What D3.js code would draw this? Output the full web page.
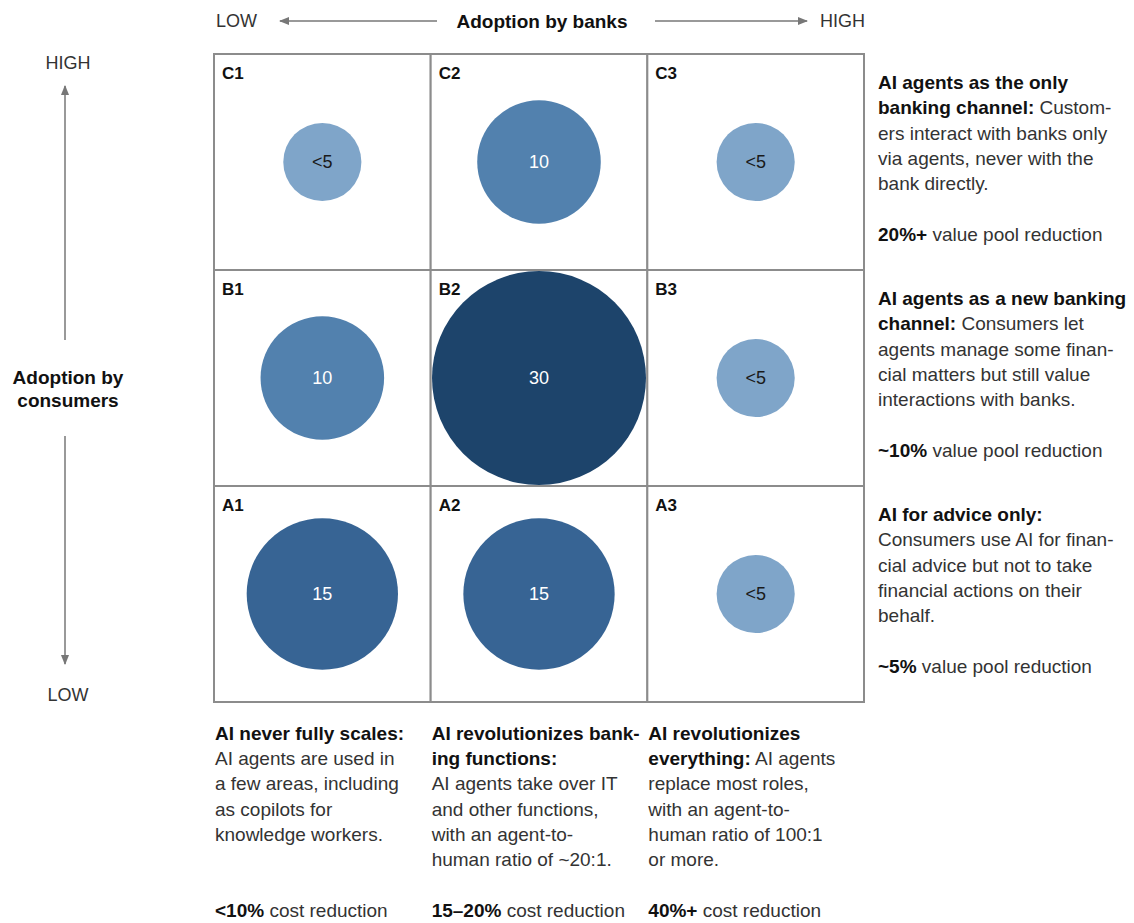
<!DOCTYPE html>
<html>
<head>
<meta charset="utf-8">
<script src="https://cdn.jsdelivr.net/npm/d3@7"></script>
<style>
  body { margin: 0; background: #fff; }
  svg text { font-family: "Liberation Sans", Arial, sans-serif; }
</style>
</head>
<body>
<div id="canvas"></div>
<script>
const width = 1134, height = 923;
const grid = { left: 214, right: 864, top: 54, bottom: 702 };

// the matrix: rows top to bottom, columns left to right
const rowKeys = ["C", "B", "A"];
const colKeys = ["1", "2", "3"];
const cells = ["C1", "C2", "C3", "B1", "B2", "B3", "A1", "A2", "A3"];
const cellValues = [4, 10, 4, 10, 30, 4, 15, 15, 4];
const cellLabels = ["<5", "10", "<5", "10", "30", "<5", "15", "15", "<5"];

const valueLevels = [4, 10, 15, 30];
const levelColors = ["#7fa5c9", "#5281ae", "#376494", "#1d446b"];

// scenario notes, each line is [bold part, regular part]
const rowNotes = [
  [["AI agents as the only", ""], ["banking channel:", " Custom-"], ["", "ers interact with banks only"],
   ["", "via agents, never with the"], ["", "bank directly."], null, ["20%+", " value pool reduction"]],
  [["AI agents as a new banking", ""], ["channel:", " Consumers let"], ["", "agents manage some finan-"],
   ["", "cial matters but still value"], ["", "interactions with banks."], null, ["~10%", " value pool reduction"]],
  [["AI for advice only:", ""], ["", "Consumers use AI for finan-"], ["", "cial advice but not to take"],
   ["", "financial actions on their"], ["", "behalf."], null, ["~5%", " value pool reduction"]]
];
const colNotes = [
  [["AI never fully scales:", ""], ["", "AI agents are used in"], ["", "a few areas, including"],
   ["", "as copilots for"], ["", "knowledge workers."]],
  [["AI revolutionizes bank-", ""], ["ing functions:", ""], ["", "AI agents take over IT"],
   ["", "and other functions,"], ["", "with an agent-to-"], ["", "human ratio of ~20:1."]],
  [["AI revolutionizes", ""], ["everything:", " AI agents"], ["", "replace most roles,"],
   ["", "with an agent-to-"], ["", "human ratio of 100:1"], ["", "or more."]]
];
const colFooters = [["<10%", " cost reduction"], ["15\u201320%", " cost reduction"], ["40%+", " cost reduction"]];

const svg = d3.select("#canvas").append("svg")
  .attr("width", width).attr("height", height);

const x = d3.scaleBand().domain(colKeys).range([grid.left, grid.right]);
const y = d3.scaleBand().domain(rowKeys).range([grid.top, grid.bottom]);
const r = d3.scaleSqrt().domain([0, 30]).range([0, 107]);
const color = d3.scaleOrdinal().domain(valueLevels).range(levelColors);

const data = cells.map((c, i) => ({ id: c, row: c[0], col: c[1], value: cellValues[i], label: cellLabels[i] }));

// arrowheads
const defs = svg.append("defs");
defs.append("marker").attr("id", "arr")
  .attr("viewBox", "0 0 10 10").attr("refX", 9).attr("refY", 5)
  .attr("markerWidth", 7).attr("markerHeight", 7).attr("orient", "auto-start-reverse")
  .append("path").attr("d", "M0,1 L10,5 L0,9 Z").attr("fill", "#777");

// cells
const cellG = svg.append("g");
cellG.selectAll("rect").data(data).join("rect")
  .attr("x", d => x(d.col)).attr("y", d => y(d.row))
  .attr("width", x.bandwidth()).attr("height", y.bandwidth())
  .attr("fill", "#fff").attr("stroke", "#8c8c8c").attr("stroke-width", 2);

cellG.selectAll("circle").data(data).join("circle")
  .attr("cx", d => x(d.col) + x.bandwidth() / 2)
  .attr("cy", d => y(d.row) + y.bandwidth() / 2)
  .attr("r", d => r(d.value))
  .attr("fill", d => color(d.value));

cellG.selectAll("text.val").data(data).join("text").attr("class", "val")
  .attr("x", d => x(d.col) + x.bandwidth() / 2)
  .attr("y", d => y(d.row) + y.bandwidth() / 2)
  .attr("dy", "0.35em").attr("text-anchor", "middle")
  .attr("font-size", 18)
  .attr("fill", d => d.value < 5 ? "#1a1a1a" : "#fff")
  .text(d => d.label);

cellG.selectAll("text.id").data(data).join("text").attr("class", "id")
  .attr("x", d => x(d.col) + 8).attr("y", d => y(d.row) + 25)
  .attr("font-size", 17).attr("font-weight", "bold").attr("fill", "#111")
  .text(d => d.id);

// top axis
const topY = 21;
const topAxis = svg.append("g").attr("font-size", 18);
topAxis.append("text").attr("x", grid.left + 2).attr("y", topY).attr("dy", "0.35em").attr("fill", "#333").text("LOW");
topAxis.append("text").attr("x", grid.right + 1).attr("y", topY).attr("dy", "0.35em").attr("text-anchor", "end").attr("fill", "#333").text("HIGH");
topAxis.append("text").attr("x", 542).attr("y", topY).attr("dy", "0.35em")
  .attr("text-anchor", "middle").attr("font-size", 19).attr("font-weight", "bold").attr("fill", "#111").text("Adoption by banks");
topAxis.append("line").attr("x1", 437).attr("x2", 280).attr("y1", topY).attr("y2", topY)
  .attr("stroke", "#777").attr("stroke-width", 1.5).attr("marker-end", "url(#arr)");
topAxis.append("line").attr("x1", 655).attr("x2", 807).attr("y1", topY).attr("y2", topY)
  .attr("stroke", "#777").attr("stroke-width", 1.5).attr("marker-end", "url(#arr)");

// left axis
const leftX = 65;
const leftAxis = svg.append("g").attr("font-size", 18);
leftAxis.append("text").attr("x", leftX + 3).attr("y", 63).attr("dy", "0.35em").attr("text-anchor", "middle").attr("fill", "#333").text("HIGH");
leftAxis.append("text").attr("x", leftX + 3).attr("y", 695).attr("dy", "0.35em").attr("text-anchor", "middle").attr("fill", "#333").text("LOW");
leftAxis.append("text").attr("x", leftX + 3).attr("y", 377).attr("dy", "0.35em").attr("text-anchor", "middle")
  .attr("font-size", 19).attr("font-weight", "bold").attr("fill", "#111").text("Adoption by");
leftAxis.append("text").attr("x", leftX + 3).attr("y", 400).attr("dy", "0.35em").attr("text-anchor", "middle")
  .attr("font-size", 19).attr("font-weight", "bold").attr("fill", "#111").text("consumers");
leftAxis.append("line").attr("x1", leftX).attr("x2", leftX).attr("y1", 340).attr("y2", 86)
  .attr("stroke", "#777").attr("stroke-width", 1.5).attr("marker-end", "url(#arr)");
leftAxis.append("line").attr("x1", leftX).attr("x2", leftX).attr("y1", 436).attr("y2", 664)
  .attr("stroke", "#777").attr("stroke-width", 1.5).attr("marker-end", "url(#arr)");

// writes a block of [bold, regular] lines
function writeLines(g, lines, x0, y0, lh) {
  lines.forEach((ln, i) => {
    if (!ln) return;
    const t = g.append("text").attr("x", x0).attr("y", y0 + i * lh).attr("font-size", 19);
    if (ln[0]) t.append("tspan").attr("font-weight", "bold").attr("fill", "#111").text(ln[0]);
    if (ln[1]) t.append("tspan").attr("fill", "#333").style("white-space", "pre").text(ln[1]);
  });
}

const notesR = svg.append("g");
rowKeys.forEach((k, i) => {
  writeLines(notesR, rowNotes[i], grid.right + 14, y(k) + 35, 25.3);
});

const notesB = svg.append("g");
colKeys.forEach((k, i) => {
  writeLines(notesB, colNotes[i], x(k) + 1, 740, 25.2);
  writeLines(notesB, [colFooters[i]], x(k) + 1, 917, 25);
});
</script>
</body>
</html>
